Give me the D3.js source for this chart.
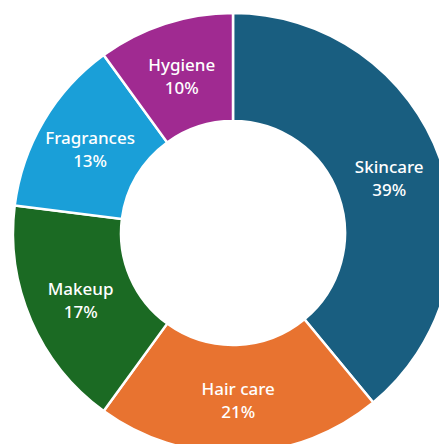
<!DOCTYPE html>
<html>
<head>
<meta charset="utf-8">
<script src="https://cdn.jsdelivr.net/npm/d3@7"></script>
<style>
  html, body { margin: 0; padding: 0; background: #fff; overflow: hidden; }
</style>
</head>
<body>
<div id="chart"></div>
<script>
const categories = ["Skincare", "Hair care", "Makeup", "Fragrances", "Hygiene"];
const shares = [39, 21, 17, 13, 10];
const colors = ["#195e80", "#e87330", "#1b6a23", "#1a9fd8", "#a02a91"];

const svgWidth = 439;
const svgHeight = 444;
const cx = 233, cy = 233;
const outerR = 220, innerR = 112;

const data = categories.map((c, i) => ({ name: c, value: shares[i], color: colors[i] }));

const svg = d3.select("#chart")
    .append("svg")
    .attr("width", svgWidth)
    .attr("height", svgHeight);

const g = svg.append("g")
    .attr("transform", `translate(${cx},${cy})`);

const pie = d3.pie()
    .sort(null)
    .value(d => d.value);

const arc = d3.arc()
    .innerRadius(innerR)
    .outerRadius(outerR);

const arcs = pie(data);

g.selectAll("path")
    .data(arcs)
    .enter()
    .append("path")
    .attr("d", arc)
    .attr("fill", d => d.data.color)
    .attr("stroke", "#fff")
    .attr("stroke-width", 2.5);

const labels = g.selectAll("text")
    .data(arcs)
    .enter()
    .append("text")
    .attr("transform", d => `translate(${arc.centroid(d)})`)
    .attr("text-anchor", "middle")
    .attr("fill", "#fff")
    .style("font-family", "'Noto Sans', sans-serif")
    .style("font-weight", 500)
    .style("font-size", "17px");

labels.append("tspan")
    .attr("x", 0)
    .attr("y", -4)
    .text(d => d.data.name);

labels.append("tspan")
    .attr("x", 0)
    .attr("y", 19)
    .text(d => d.data.value + "%");
</script>
</body>
</html>
